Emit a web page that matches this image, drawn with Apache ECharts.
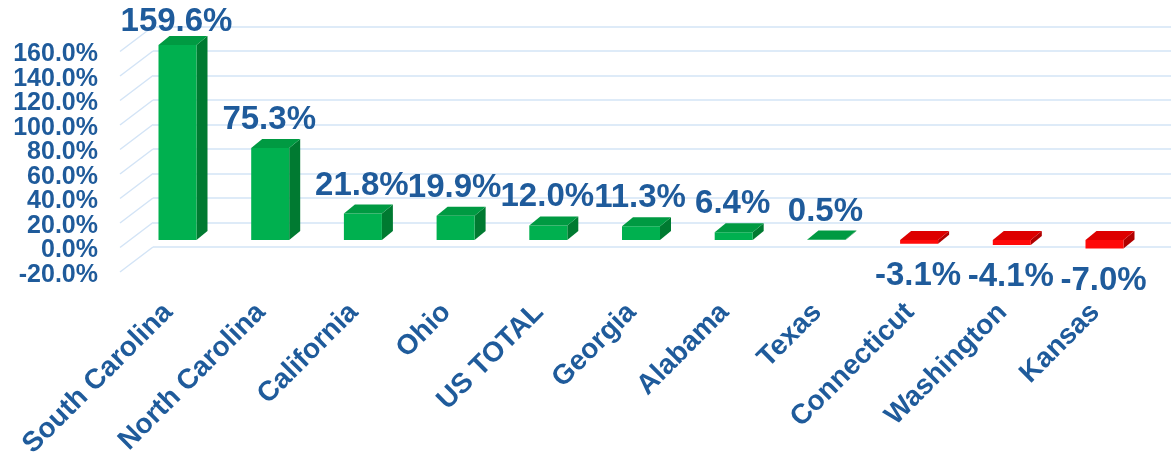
<!DOCTYPE html>
<html>
<head>
<meta charset="utf-8">
<script src="https://cdn.jsdelivr.net/npm/echarts@6/dist/echarts.min.js"></script>
<style>
  html, body { margin: 0; padding: 0; background: #fff; }
  #chart { width: 1171px; height: 462px; }
</style>
</head>
<body>
<div id="chart"></div>
<script>
var categories = ['South Carolina', 'North Carolina', 'California', 'Ohio', 'US TOTAL',
  'Georgia', 'Alabama', 'Texas', 'Connecticut', 'Washington', 'Kansas'];
var growth = [159.6, 75.3, 21.8, 19.9, 12.0, 11.3, 6.4, 0.5, -3.1, -4.1, -7.0];
var yTicks = [-20, 0, 20, 40, 60, 80, 100, 120, 140, 160];

var blue = '#1f5b9b';
var font = '"Liberation Sans", Arial, sans-serif';

(function () {
  var chart = echarts.init(document.getElementById('chart'));

  // left wall: diagonal gridline + tick label at its front end
  function renderWall(params, api) {
    var t = api.value(0);
    var p = api.coord([0, t]);
    var x = params.coordSys.x;
    return {
      type: 'group',
      children: [
        { type: 'line', shape: { x1: x, y1: p[1], x2: x - 33, y2: p[1] + 25 },
          style: { stroke: '#d3e4f6', lineWidth: 1.5 } },
        { type: 'text', style: { text: t.toFixed(1) + '%', x: x - 55, y: p[1] + 28,
          align: 'right', verticalAlign: 'middle', fill: blue,
          fontSize: 25, fontWeight: 'bold', fontFamily: font } }
      ]
    };
  }

  // bar = front face + top face + side face
  function renderBar(params, api) {
    var i = api.value(0), v = api.value(1);
    var base = api.coord([i, 0]);
    var end = api.coord([i, v]);
    var w = 38, dx = 11, dy = -9;
    var x0 = base[0] - w / 2, x1 = base[0] + w / 2;
    var yTop = Math.min(base[1], end[1]);
    var yBot = Math.max(base[1], end[1]);
    var pos = v >= 0;
    var c = pos ? { front: '#00b04f', top: '#009a42', side: '#007a31' }
                : { front: '#ff0a0a', top: '#dd0000', side: '#b00000' };
    var label = v.toFixed(1) + '%';
    // label kept inside the plot area at the top
    var ly = pos ? Math.max(yTop - 28, 22) : yBot + 32;
    return {
      type: 'group',
      children: [
        { type: 'polygon', shape: { points: [[x1, yTop], [x1 + dx, yTop + dy], [x1 + dx, yBot + dy], [x1, yBot]] },
          style: { fill: c.side } },
        { type: 'rect', shape: { x: x0, y: yTop, width: w, height: yBot - yTop },
          style: { fill: c.front } },
        { type: 'polygon', shape: { points: [[x0, yTop], [x1, yTop], [x1 + dx, yTop + dy], [x0 + dx, yTop + dy]] },
          style: { fill: c.top } },
        { type: 'text', style: { text: label, x: base[0] - 1, y: ly, align: 'center', verticalAlign: 'middle',
          fill: blue, fontSize: 33, fontWeight: 'bold', fontFamily: font } }
      ]
    };
  }

  var option = {
    animation: false,
    grid: [
      { left: 153, right: 0, top: 26.5, height: 220.5 },            // back wall
      { left: 131.15, width: 1019.7, top: 44.5, height: 220 },       // bars
      { left: 122, width: 1019.7, top: 287, height: 13 }              // category labels
    ],
    xAxis: [
      { gridIndex: 0, type: 'value', show: false },
      { gridIndex: 1, type: 'category', data: categories, show: false },
      { gridIndex: 2, type: 'category', data: categories, position: 'bottom',
        axisLine: { show: false }, axisTick: { show: false },
        axisLabel: { interval: 0, rotate: 45, margin: 8, color: blue, fontSize: 28,
          fontWeight: 'bold', fontFamily: font } }
    ],
    yAxis: [
      { gridIndex: 0, type: 'value', min: -20, max: 160, interval: 20,
        axisLabel: { show: false }, axisLine: { show: false }, axisTick: { show: false },
        splitLine: { show: true, lineStyle: { color: '#d3e4f6', width: 1.5 } } },
      { gridIndex: 1, type: 'value', min: -20, max: 160, interval: 20, show: false },
      { gridIndex: 2, type: 'value', show: false }
    ],
    series: [
      { type: 'custom', xAxisIndex: 0, yAxisIndex: 0, renderItem: renderWall,
        data: yTicks.map(function (t) { return [t]; }), encode: { y: 0 }, silent: true },
      { type: 'custom', xAxisIndex: 1, yAxisIndex: 1, renderItem: renderBar,
        data: growth.map(function (v, i) { return [i, v]; }), encode: { x: 0, y: 1 } }
    ]
  };
  chart.setOption(option);
})();
</script>
</body>
</html>
